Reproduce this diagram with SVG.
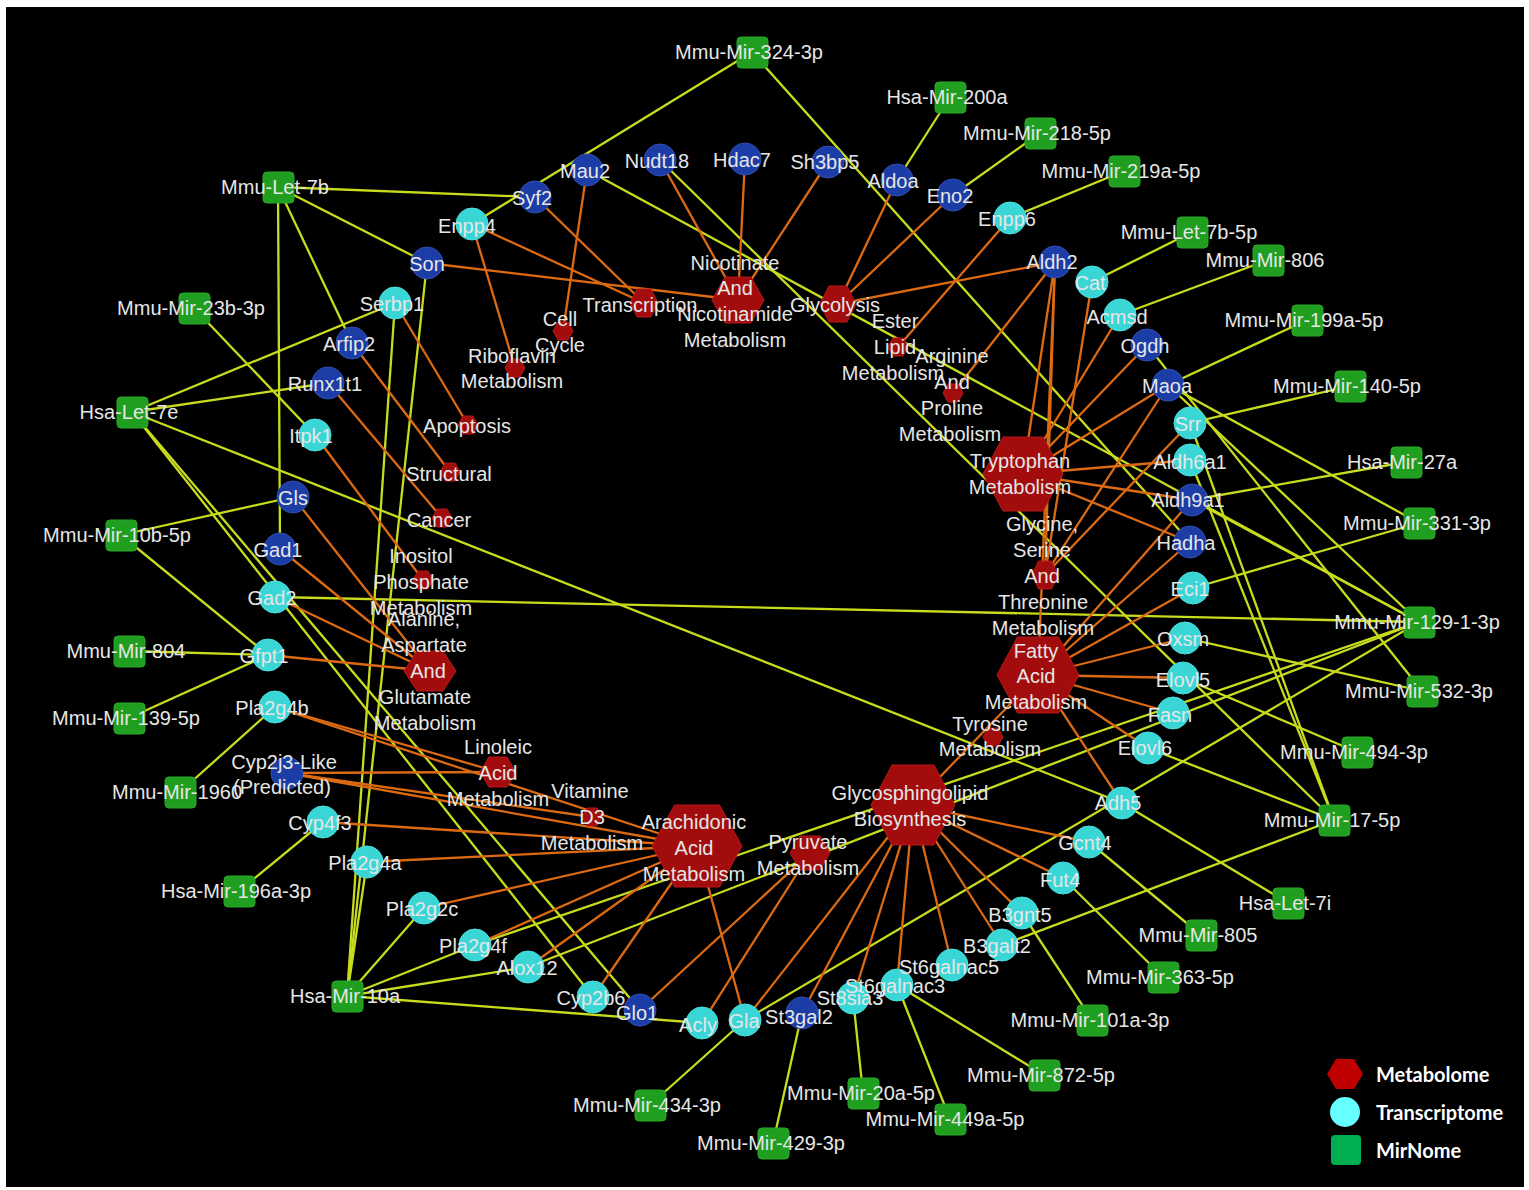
<svg xmlns="http://www.w3.org/2000/svg" width="1529" height="1190" viewBox="0 0 1529 1190">
<style>
.ey{stroke:#c8dc1e;stroke-width:2.3;fill:none}
.eo{stroke:#dc6a12;stroke-width:2.3;fill:none}
.sq{fill:#1f9e1f;stroke:#2aa82a;stroke-width:1}
.cc{fill:#3ad6d6;stroke:#48e0e0;stroke-width:1}
.cb{fill:#1c3da5;stroke:#3050b8;stroke-width:1}
.hx{fill:#a30c0c;stroke:#b81818;stroke-width:1}
.lbl{font-family:"Liberation Sans",Arial,sans-serif;font-size:20px;fill:#e6e6e6;text-anchor:middle}
.lg{font-family:Lato,"Liberation Sans",sans-serif;font-weight:700;font-size:20px;fill:#ffffff}
</style>
<rect x="0" y="0" width="1529" height="1190" fill="#ffffff"/>
<rect x="6" y="7" width="1518" height="1180" fill="#000000"/>
<g id="connectors">
<line class="ey" x1="278" y1="187" x2="535" y2="197"/>
<line class="ey" x1="278" y1="187" x2="427" y2="263"/>
<line class="ey" x1="278" y1="187" x2="352" y2="343"/>
<line class="ey" x1="278" y1="187" x2="280" y2="549"/>
<line class="ey" x1="752" y1="52" x2="472" y2="224"/>
<line class="ey" x1="752" y1="52" x2="1190" y2="542"/>
<line class="ey" x1="950" y1="97" x2="897" y2="180"/>
<line class="ey" x1="1040" y1="133" x2="953" y2="195"/>
<line class="ey" x1="1124" y1="171" x2="1010" y2="218"/>
<line class="ey" x1="1192" y1="232" x2="1092" y2="282"/>
<line class="ey" x1="1268" y1="260" x2="1120" y2="315"/>
<line class="ey" x1="1307" y1="320" x2="1168" y2="385"/>
<line class="ey" x1="1350" y1="386" x2="1190" y2="423"/>
<line class="ey" x1="1406" y1="462" x2="1192" y2="500"/>
<line class="ey" x1="1419" y1="523" x2="1193" y2="588"/>
<line class="ey" x1="1419" y1="523" x2="1168" y2="385"/>
<line class="ey" x1="1419" y1="622" x2="275" y2="597"/>
<line class="ey" x1="1419" y1="622" x2="587" y2="170"/>
<line class="ey" x1="1419" y1="622" x2="1192" y2="500"/>
<line class="ey" x1="1419" y1="622" x2="1168" y2="385"/>
<line class="ey" x1="1419" y1="622" x2="745" y2="1020"/>
<line class="ey" x1="1419" y1="622" x2="475" y2="945"/>
<line class="ey" x1="1419" y1="622" x2="528" y2="967"/>
<line class="ey" x1="1422" y1="691" x2="1185" y2="638"/>
<line class="ey" x1="1422" y1="691" x2="1147" y2="345"/>
<line class="ey" x1="1357" y1="752" x2="1183" y2="678"/>
<line class="ey" x1="1334" y1="820" x2="1190" y2="460"/>
<line class="ey" x1="1334" y1="820" x2="1190" y2="423"/>
<line class="ey" x1="1334" y1="820" x2="660" y2="160"/>
<line class="ey" x1="1334" y1="820" x2="1148" y2="748"/>
<line class="ey" x1="1334" y1="820" x2="1002" y2="945"/>
<line class="ey" x1="1288" y1="903" x2="1122" y2="803"/>
<line class="ey" x1="1201" y1="935" x2="1089" y2="842"/>
<line class="ey" x1="1163" y1="977" x2="1063" y2="878"/>
<line class="ey" x1="1092" y1="1020" x2="1022" y2="913"/>
<line class="ey" x1="1044" y1="1075" x2="897" y2="985"/>
<line class="ey" x1="950" y1="1119" x2="897" y2="985"/>
<line class="ey" x1="863" y1="1093" x2="853" y2="998"/>
<line class="ey" x1="773" y1="1143" x2="802" y2="1013"/>
<line class="ey" x1="650" y1="1105" x2="745" y2="1020"/>
<line class="ey" x1="347" y1="996" x2="702" y2="1023"/>
<line class="ey" x1="347" y1="996" x2="475" y2="945"/>
<line class="ey" x1="347" y1="996" x2="528" y2="967"/>
<line class="ey" x1="347" y1="996" x2="424" y2="908"/>
<line class="ey" x1="347" y1="996" x2="367" y2="862"/>
<line class="ey" x1="347" y1="996" x2="395" y2="303"/>
<line class="ey" x1="347" y1="996" x2="427" y2="263"/>
<line class="ey" x1="239" y1="891" x2="323" y2="822"/>
<line class="ey" x1="180" y1="792" x2="275" y2="707"/>
<line class="ey" x1="129" y1="718" x2="268" y2="655"/>
<line class="ey" x1="129" y1="651" x2="268" y2="655"/>
<line class="ey" x1="121" y1="535" x2="268" y2="655"/>
<line class="ey" x1="121" y1="535" x2="293" y2="497"/>
<line class="ey" x1="132" y1="412" x2="395" y2="303"/>
<line class="ey" x1="132" y1="412" x2="328" y2="383"/>
<line class="ey" x1="132" y1="412" x2="593" y2="997"/>
<line class="ey" x1="132" y1="412" x2="640" y2="1010"/>
<line class="ey" x1="132" y1="412" x2="1122" y2="803"/>
<line class="ey" x1="194" y1="308" x2="315" y2="435"/>
<line class="eo" x1="535" y1="197" x2="644" y2="303"/>
<line class="eo" x1="472" y1="224" x2="644" y2="303"/>
<line class="eo" x1="472" y1="224" x2="515" y2="368"/>
<line class="eo" x1="587" y1="170" x2="563" y2="331"/>
<line class="eo" x1="427" y1="263" x2="738" y2="300"/>
<line class="eo" x1="660" y1="160" x2="738" y2="300"/>
<line class="eo" x1="745" y1="159" x2="738" y2="300"/>
<line class="eo" x1="828" y1="162" x2="738" y2="300"/>
<line class="eo" x1="897" y1="180" x2="838" y2="304"/>
<line class="eo" x1="953" y1="195" x2="838" y2="304"/>
<line class="eo" x1="1055" y1="262" x2="838" y2="304"/>
<line class="eo" x1="1010" y1="218" x2="898" y2="347"/>
<line class="eo" x1="1055" y1="262" x2="953" y2="393"/>
<line class="eo" x1="1055" y1="262" x2="1023" y2="474"/>
<line class="eo" x1="1055" y1="262" x2="1045" y2="575"/>
<line class="eo" x1="1055" y1="262" x2="1038" y2="675"/>
<line class="eo" x1="1092" y1="282" x2="1045" y2="575"/>
<line class="eo" x1="1120" y1="315" x2="1023" y2="474"/>
<line class="eo" x1="1147" y1="345" x2="1023" y2="474"/>
<line class="eo" x1="1168" y1="385" x2="1023" y2="474"/>
<line class="eo" x1="1168" y1="385" x2="1045" y2="575"/>
<line class="eo" x1="1190" y1="423" x2="1045" y2="575"/>
<line class="eo" x1="1190" y1="460" x2="1023" y2="474"/>
<line class="eo" x1="1192" y1="500" x2="1023" y2="474"/>
<line class="eo" x1="1192" y1="500" x2="1038" y2="675"/>
<line class="eo" x1="1190" y1="542" x2="1023" y2="474"/>
<line class="eo" x1="1190" y1="542" x2="1038" y2="675"/>
<line class="eo" x1="1193" y1="588" x2="1038" y2="675"/>
<line class="eo" x1="1185" y1="638" x2="1038" y2="675"/>
<line class="eo" x1="1183" y1="678" x2="1038" y2="675"/>
<line class="eo" x1="1173" y1="713" x2="1038" y2="675"/>
<line class="eo" x1="1148" y1="748" x2="1038" y2="675"/>
<line class="eo" x1="1122" y1="803" x2="1038" y2="675"/>
<line class="eo" x1="913" y1="805" x2="1038" y2="675"/>
<line class="eo" x1="913" y1="805" x2="1089" y2="842"/>
<line class="eo" x1="913" y1="805" x2="1063" y2="878"/>
<line class="eo" x1="913" y1="805" x2="1022" y2="913"/>
<line class="eo" x1="913" y1="805" x2="1002" y2="945"/>
<line class="eo" x1="913" y1="805" x2="952" y2="965"/>
<line class="eo" x1="913" y1="805" x2="897" y2="985"/>
<line class="eo" x1="913" y1="805" x2="853" y2="998"/>
<line class="eo" x1="913" y1="805" x2="802" y2="1013"/>
<line class="eo" x1="913" y1="805" x2="745" y2="1020"/>
<line class="eo" x1="810" y1="853" x2="640" y2="1010"/>
<line class="eo" x1="810" y1="853" x2="702" y2="1023"/>
<line class="eo" x1="697" y1="846" x2="745" y2="1020"/>
<line class="eo" x1="697" y1="846" x2="593" y2="997"/>
<line class="eo" x1="697" y1="846" x2="528" y2="967"/>
<line class="eo" x1="697" y1="846" x2="475" y2="945"/>
<line class="eo" x1="697" y1="846" x2="424" y2="908"/>
<line class="eo" x1="697" y1="846" x2="367" y2="862"/>
<line class="eo" x1="697" y1="846" x2="323" y2="822"/>
<line class="eo" x1="697" y1="846" x2="287" y2="773"/>
<line class="eo" x1="697" y1="846" x2="275" y2="707"/>
<line class="eo" x1="498" y1="772" x2="275" y2="707"/>
<line class="eo" x1="498" y1="772" x2="287" y2="773"/>
<line class="eo" x1="592" y1="817" x2="287" y2="773"/>
<line class="eo" x1="430" y1="671" x2="293" y2="497"/>
<line class="eo" x1="430" y1="671" x2="280" y2="549"/>
<line class="eo" x1="430" y1="671" x2="275" y2="597"/>
<line class="eo" x1="430" y1="671" x2="268" y2="655"/>
<line class="eo" x1="423" y1="580" x2="315" y2="435"/>
<line class="eo" x1="442" y1="518" x2="328" y2="383"/>
<line class="eo" x1="450" y1="472" x2="352" y2="343"/>
<line class="eo" x1="468" y1="425" x2="395" y2="303"/>
</g>
<g id="metabolome">
<polygon id="n-nicotinate" class="hx" points="712,300 725,277 751,277 764,300 751,323 725,323"/>
<polygon id="n-glycolysis" class="hx" points="820,304 829,286 847,286 856,304 847,322 829,322"/>
<polygon id="n-transcription" class="hx" points="630,303 637,289 651,289 658,303 651,317 637,317"/>
<polygon id="n-cellcycle" class="hx" points="553,331 558,322 568,322 573,331 568,340 558,340"/>
<polygon id="n-riboflavin" class="hx" points="505,368 510,359 520,359 525,368 520,377 510,377"/>
<polygon id="n-apoptosis" class="hx" points="458,425 463,416 473,416 478,425 473,434 463,434"/>
<polygon id="n-structural" class="hx" points="440,472 445,463 455,463 460,472 455,481 445,481"/>
<polygon id="n-cancer" class="hx" points="432,518 437,509 447,509 452,518 447,527 437,527"/>
<polygon id="n-inositol" class="hx" points="413,580 418,571 428,571 433,580 428,589 418,589"/>
<polygon id="n-alanine" class="hx" points="404,671 417,651 443,651 456,671 443,691 417,691"/>
<polygon id="n-linoleic" class="hx" points="480,772 489,757 507,757 516,772 507,787 489,787"/>
<polygon id="n-vitd3" class="hx" points="582,817 587,808 597,808 602,817 597,826 587,826"/>
<polygon id="n-arachidonic" class="hx" points="652,846 674.5,805 719.5,805 742,846 719.5,887 674.5,887"/>
<polygon id="n-pyruvate" class="hx" points="790,853 800,836 820,836 830,853 820,870 800,870"/>
<polygon id="n-glycosphingolipid" class="hx" points="871,805 892,765 934,765 955,805 934,845 892,845"/>
<polygon id="n-tyrosine" class="hx" points="983,737 988,728 998,728 1003,737 998,746 988,746"/>
<polygon id="n-fattyacid" class="hx" points="997,675 1017.5,637 1058.5,637 1079,675 1058.5,713 1017.5,713"/>
<polygon id="n-glycine" class="hx" points="1032,575 1038.5,561 1051.5,561 1058,575 1051.5,589 1038.5,589"/>
<polygon id="n-tryptophan" class="hx" points="983,474 1003,437 1043,437 1063,474 1043,511 1003,511"/>
<polygon id="n-arginine" class="hx" points="943,393 948,384 958,384 963,393 958,402 948,402"/>
<polygon id="n-esterlipid" class="hx" points="888,347 893,338 903,338 908,347 903,356 893,356"/>
</g>
<g id="transcriptome">
<circle id="n-syf2" class="cb" cx="535" cy="197" r="16"/>
<circle id="n-mau2" class="cb" cx="587" cy="170" r="16"/>
<circle id="n-nudt18" class="cb" cx="660" cy="160" r="16"/>
<circle id="n-hdac7" class="cb" cx="745" cy="159" r="16"/>
<circle id="n-sh3bp5" class="cb" cx="828" cy="162" r="16"/>
<circle id="n-aldoa" class="cb" cx="897" cy="180" r="16"/>
<circle id="n-eno2" class="cb" cx="953" cy="195" r="16"/>
<circle id="n-enpp6" class="cc" cx="1010" cy="218" r="16"/>
<circle id="n-aldh2" class="cb" cx="1055" cy="262" r="16"/>
<circle id="n-cat" class="cc" cx="1092" cy="282" r="16"/>
<circle id="n-acmsd" class="cc" cx="1120" cy="315" r="16"/>
<circle id="n-ogdh" class="cb" cx="1147" cy="345" r="16"/>
<circle id="n-maoa" class="cb" cx="1168" cy="385" r="16"/>
<circle id="n-srr" class="cc" cx="1190" cy="423" r="16"/>
<circle id="n-aldh6a1" class="cc" cx="1190" cy="460" r="16"/>
<circle id="n-aldh9a1" class="cb" cx="1192" cy="500" r="16"/>
<circle id="n-hadha" class="cb" cx="1190" cy="542" r="16"/>
<circle id="n-eci1" class="cc" cx="1193" cy="588" r="16"/>
<circle id="n-oxsm" class="cc" cx="1185" cy="638" r="16"/>
<circle id="n-elovl5" class="cc" cx="1183" cy="678" r="16"/>
<circle id="n-fasn" class="cc" cx="1173" cy="713" r="16"/>
<circle id="n-elovl6" class="cc" cx="1148" cy="748" r="16"/>
<circle id="n-adh5" class="cc" cx="1122" cy="803" r="16"/>
<circle id="n-gcnt4" class="cc" cx="1089" cy="842" r="16"/>
<circle id="n-fut4" class="cc" cx="1063" cy="878" r="16"/>
<circle id="n-b3gnt5" class="cc" cx="1022" cy="913" r="16"/>
<circle id="n-b3galt2" class="cc" cx="1002" cy="945" r="16"/>
<circle id="n-st6galnac5" class="cc" cx="952" cy="965" r="16"/>
<circle id="n-st6galnac3" class="cc" cx="897" cy="985" r="16"/>
<circle id="n-st8sia3" class="cc" cx="853" cy="998" r="16"/>
<circle id="n-st3gal2" class="cb" cx="802" cy="1013" r="16"/>
<circle id="n-gla" class="cc" cx="745" cy="1020" r="16"/>
<circle id="n-acly" class="cc" cx="702" cy="1023" r="16"/>
<circle id="n-glo1" class="cb" cx="640" cy="1010" r="16"/>
<circle id="n-cyp2b6" class="cc" cx="593" cy="997" r="16"/>
<circle id="n-alox12" class="cc" cx="528" cy="967" r="16"/>
<circle id="n-pla2g4f" class="cc" cx="475" cy="945" r="16"/>
<circle id="n-pla2g2c" class="cc" cx="424" cy="908" r="16"/>
<circle id="n-pla2g4a" class="cc" cx="367" cy="862" r="16"/>
<circle id="n-cyp4f3" class="cc" cx="323" cy="822" r="16"/>
<circle id="n-cyp2j3" class="cb" cx="287" cy="773" r="16"/>
<circle id="n-pla2g4b" class="cc" cx="275" cy="707" r="16"/>
<circle id="n-gfpt1" class="cc" cx="268" cy="655" r="16"/>
<circle id="n-gad2" class="cc" cx="275" cy="597" r="16"/>
<circle id="n-gad1" class="cb" cx="280" cy="549" r="16"/>
<circle id="n-gls" class="cb" cx="293" cy="497" r="16"/>
<circle id="n-itpk1" class="cc" cx="315" cy="435" r="16"/>
<circle id="n-runx1t1" class="cb" cx="328" cy="383" r="16"/>
<circle id="n-arfip2" class="cb" cx="352" cy="343" r="16"/>
<circle id="n-serbp1" class="cc" cx="395" cy="303" r="16"/>
<circle id="n-son" class="cb" cx="427" cy="263" r="16"/>
<circle id="n-enpp4" class="cc" cx="472" cy="224" r="16"/>
</g>
<g id="mirnome">
<rect id="n-mir324" class="sq" x="737" y="37" width="31" height="31" rx="4"/>
<rect id="n-mir200a" class="sq" x="935" y="82" width="31" height="31" rx="4"/>
<rect id="n-mir218" class="sq" x="1025" y="118" width="31" height="31" rx="4"/>
<rect id="n-mir219a" class="sq" x="1109" y="156" width="31" height="31" rx="4"/>
<rect id="n-let7b5p" class="sq" x="1177" y="217" width="31" height="31" rx="4"/>
<rect id="n-mir806" class="sq" x="1253" y="245" width="31" height="31" rx="4"/>
<rect id="n-mir199a" class="sq" x="1292" y="305" width="31" height="31" rx="4"/>
<rect id="n-mir140" class="sq" x="1335" y="371" width="31" height="31" rx="4"/>
<rect id="n-mir27a" class="sq" x="1391" y="447" width="31" height="31" rx="4"/>
<rect id="n-mir331" class="sq" x="1404" y="508" width="31" height="31" rx="4"/>
<rect id="n-mir129" class="sq" x="1404" y="607" width="31" height="31" rx="4"/>
<rect id="n-mir532" class="sq" x="1407" y="676" width="31" height="31" rx="4"/>
<rect id="n-mir494" class="sq" x="1342" y="737" width="31" height="31" rx="4"/>
<rect id="n-mir17" class="sq" x="1319" y="805" width="31" height="31" rx="4"/>
<rect id="n-let7i" class="sq" x="1273" y="888" width="31" height="31" rx="4"/>
<rect id="n-mir805" class="sq" x="1186" y="920" width="31" height="31" rx="4"/>
<rect id="n-mir363" class="sq" x="1148" y="962" width="31" height="31" rx="4"/>
<rect id="n-mir101a" class="sq" x="1077" y="1005" width="31" height="31" rx="4"/>
<rect id="n-mir872" class="sq" x="1029" y="1060" width="31" height="31" rx="4"/>
<rect id="n-mir449a" class="sq" x="935" y="1104" width="31" height="31" rx="4"/>
<rect id="n-mir20a" class="sq" x="848" y="1078" width="31" height="31" rx="4"/>
<rect id="n-mir429" class="sq" x="758" y="1128" width="31" height="31" rx="4"/>
<rect id="n-mir434" class="sq" x="635" y="1090" width="31" height="31" rx="4"/>
<rect id="n-mir10a" class="sq" x="332" y="981" width="31" height="31" rx="4"/>
<rect id="n-mir196a" class="sq" x="224" y="876" width="31" height="31" rx="4"/>
<rect id="n-mir1960" class="sq" x="165" y="777" width="31" height="31" rx="4"/>
<rect id="n-mir139" class="sq" x="114" y="703" width="31" height="31" rx="4"/>
<rect id="n-mir804" class="sq" x="114" y="636" width="31" height="31" rx="4"/>
<rect id="n-mir10b" class="sq" x="106" y="520" width="31" height="31" rx="4"/>
<rect id="n-let7e" class="sq" x="117" y="397" width="31" height="31" rx="4"/>
<rect id="n-mir23b" class="sq" x="179" y="293" width="31" height="31" rx="4"/>
<rect id="n-let7b" class="sq" x="263" y="172" width="31" height="31" rx="4"/>
</g>
<g id="labels">
<text class="lbl" x="749" y="59">Mmu-Mir-324-3p</text>
<text class="lbl" x="947" y="104">Hsa-Mir-200a</text>
<text class="lbl" x="1037" y="140">Mmu-Mir-218-5p</text>
<text class="lbl" x="1121" y="178">Mmu-Mir-219a-5p</text>
<text class="lbl" x="1189" y="239">Mmu-Let-7b-5p</text>
<text class="lbl" x="1265" y="267">Mmu-Mir-806</text>
<text class="lbl" x="1304" y="327">Mmu-Mir-199a-5p</text>
<text class="lbl" x="1347" y="393">Mmu-Mir-140-5p</text>
<text class="lbl" x="1402" y="469">Hsa-Mir-27a</text>
<text class="lbl" x="1417" y="530">Mmu-Mir-331-3p</text>
<text class="lbl" x="1417" y="629">Mmu-Mir-129-1-3p</text>
<text class="lbl" x="1419" y="698">Mmu-Mir-532-3p</text>
<text class="lbl" x="1354" y="759">Mmu-Mir-494-3p</text>
<text class="lbl" x="1332" y="827">Mmu-Mir-17-5p</text>
<text class="lbl" x="1285" y="910">Hsa-Let-7i</text>
<text class="lbl" x="1198" y="942">Mmu-Mir-805</text>
<text class="lbl" x="1160" y="984">Mmu-Mir-363-5p</text>
<text class="lbl" x="1090" y="1027">Mmu-Mir-101a-3p</text>
<text class="lbl" x="1041" y="1082">Mmu-Mir-872-5p</text>
<text class="lbl" x="945" y="1126">Mmu-Mir-449a-5p</text>
<text class="lbl" x="861" y="1100">Mmu-Mir-20a-5p</text>
<text class="lbl" x="771" y="1150">Mmu-Mir-429-3p</text>
<text class="lbl" x="647" y="1112">Mmu-Mir-434-3p</text>
<text class="lbl" x="345" y="1003">Hsa-Mir-10a</text>
<text class="lbl" x="236" y="898">Hsa-Mir-196a-3p</text>
<text class="lbl" x="177" y="799">Mmu-Mir-1960</text>
<text class="lbl" x="126" y="725">Mmu-Mir-139-5p</text>
<text class="lbl" x="126" y="658">Mmu-Mir-804</text>
<text class="lbl" x="117" y="542">Mmu-Mir-10b-5p</text>
<text class="lbl" x="129" y="419">Hsa-Let-7e</text>
<text class="lbl" x="191" y="315">Mmu-Mir-23b-3p</text>
<text class="lbl" x="275" y="194">Mmu-Let-7b</text>
<text class="lbl" x="532" y="205">Syf2</text>
<text class="lbl" x="585" y="178">Mau2</text>
<text class="lbl" x="657" y="168">Nudt18</text>
<text class="lbl" x="742" y="167">Hdac7</text>
<text class="lbl" x="825" y="169">Sh3bp5</text>
<text class="lbl" x="893" y="188">Aldoa</text>
<text class="lbl" x="950" y="203">Eno2</text>
<text class="lbl" x="1007" y="226">Enpp6</text>
<text class="lbl" x="1052" y="269">Aldh2</text>
<text class="lbl" x="1090" y="290">Cat</text>
<text class="lbl" x="1117" y="324">Acmsd</text>
<text class="lbl" x="1145" y="353">Ogdh</text>
<text class="lbl" x="1167" y="393">Maoa</text>
<text class="lbl" x="1188" y="431">Srr</text>
<text class="lbl" x="1190" y="469">Aldh6a1</text>
<text class="lbl" x="1188" y="507">Aldh9a1</text>
<text class="lbl" x="1186" y="550">Hadha</text>
<text class="lbl" x="1190" y="596">Eci1</text>
<text class="lbl" x="1183" y="646">Oxsm</text>
<text class="lbl" x="1183" y="687">Elovl5</text>
<text class="lbl" x="1170" y="722">Fasn</text>
<text class="lbl" x="1145" y="755">Elovl6</text>
<text class="lbl" x="1118" y="810">Adh5</text>
<text class="lbl" x="1085" y="850">Gcnt4</text>
<text class="lbl" x="1060" y="887">Fut4</text>
<text class="lbl" x="1020" y="922">B3gnt5</text>
<text class="lbl" x="997" y="953">B3galt2</text>
<text class="lbl" x="949" y="974">St6galnac5</text>
<text class="lbl" x="895" y="993">St6galnac3</text>
<text class="lbl" x="850" y="1005">St8sia3</text>
<text class="lbl" x="799" y="1024">St3gal2</text>
<text class="lbl" x="744" y="1028">Gla</text>
<text class="lbl" x="698" y="1032">Acly</text>
<text class="lbl" x="637" y="1020">Glo1</text>
<text class="lbl" x="591" y="1005">Cyp2b6</text>
<text class="lbl" x="527" y="975">Alox12</text>
<text class="lbl" x="473" y="953">Pla2g4f</text>
<text class="lbl" x="422" y="916">Pla2g2c</text>
<text class="lbl" x="365" y="870">Pla2g4a</text>
<text class="lbl" x="320" y="830">Cyp4f3</text>
<text class="lbl" x="284" y="769">Cyp2j3-Like</text>
<text class="lbl" x="282" y="794">(Predicted)</text>
<text class="lbl" x="272" y="715">Pla2g4b</text>
<text class="lbl" x="264" y="663">Gfpt1</text>
<text class="lbl" x="272" y="605">Gad2</text>
<text class="lbl" x="278" y="557">Gad1</text>
<text class="lbl" x="293" y="505">Gls</text>
<text class="lbl" x="311" y="443">Itpk1</text>
<text class="lbl" x="325" y="391">Runx1t1</text>
<text class="lbl" x="349" y="351">Arfip2</text>
<text class="lbl" x="392" y="311">Serbp1</text>
<text class="lbl" x="427" y="271">Son</text>
<text class="lbl" x="467" y="233">Enpp4</text>
<text class="lbl" x="735" y="270">Nicotinate</text>
<text class="lbl" x="735" y="295">And</text>
<text class="lbl" x="735" y="321">Nicotinamide</text>
<text class="lbl" x="735" y="347">Metabolism</text>
<text class="lbl" x="835" y="312">Glycolysis</text>
<text class="lbl" x="640" y="312">Transcription</text>
<text class="lbl" x="560" y="326">Cell</text>
<text class="lbl" x="560" y="352">Cycle</text>
<text class="lbl" x="512" y="363">Riboflavin</text>
<text class="lbl" x="512" y="388">Metabolism</text>
<text class="lbl" x="467" y="433">Apoptosis</text>
<text class="lbl" x="449" y="481">Structural</text>
<text class="lbl" x="439" y="527">Cancer</text>
<text class="lbl" x="421" y="563">Inositol</text>
<text class="lbl" x="421" y="589">Phosphate</text>
<text class="lbl" x="421" y="615">Metabolism</text>
<text class="lbl" x="424" y="626">Alanine,</text>
<text class="lbl" x="424" y="652">Aspartate</text>
<text class="lbl" x="428" y="678">And</text>
<text class="lbl" x="425" y="704">Glutamate</text>
<text class="lbl" x="425" y="730">Metabolism</text>
<text class="lbl" x="498" y="754">Linoleic</text>
<text class="lbl" x="498" y="780">Acid</text>
<text class="lbl" x="498" y="806">Metabolism</text>
<text class="lbl" x="590" y="798">Vitamine</text>
<text class="lbl" x="592" y="824">D3</text>
<text class="lbl" x="592" y="850">Metabolism</text>
<text class="lbl" x="694" y="829">Arachidonic</text>
<text class="lbl" x="694" y="855">Acid</text>
<text class="lbl" x="694" y="881">Metabolism</text>
<text class="lbl" x="808" y="849">Pyruvate</text>
<text class="lbl" x="808" y="875">Metabolism</text>
<text class="lbl" x="910" y="800">Glycosphingolipid</text>
<text class="lbl" x="910" y="826">Biosynthesis</text>
<text class="lbl" x="990" y="731">Tyrosine</text>
<text class="lbl" x="990" y="756">Metabolism</text>
<text class="lbl" x="1036" y="658">Fatty</text>
<text class="lbl" x="1036" y="683">Acid</text>
<text class="lbl" x="1036" y="709">Metabolism</text>
<text class="lbl" x="1042" y="531">Glycine,</text>
<text class="lbl" x="1042" y="557">Serine</text>
<text class="lbl" x="1042" y="583">And</text>
<text class="lbl" x="1043" y="609">Threonine</text>
<text class="lbl" x="1043" y="635">Metabolism</text>
<text class="lbl" x="1020" y="468">Tryptophan</text>
<text class="lbl" x="1020" y="494">Metabolism</text>
<text class="lbl" x="952" y="363">Arginine</text>
<text class="lbl" x="952" y="389">And</text>
<text class="lbl" x="952" y="415">Proline</text>
<text class="lbl" x="950" y="441">Metabolism</text>
<text class="lbl" x="895" y="328">Ester</text>
<text class="lbl" x="895" y="354">Lipid</text>
<text class="lbl" x="893" y="380">Metabolism</text>
</g>
<g id="legend">
<polygon points="1327,1074 1336,1059 1354,1059 1363,1074 1354,1089 1336,1089" fill="#c00000"/>
<circle cx="1345" cy="1112" r="15" fill="#66ffff"/>
<rect x="1331" y="1135" width="30" height="30" rx="4" fill="#00b050"/>
<text class="lg" x="1376" y="1082">Metabolome</text>
<text class="lg" x="1376" y="1120">Transcriptome</text>
<text class="lg" x="1376" y="1158">MirNome</text>
</g>
</svg>
